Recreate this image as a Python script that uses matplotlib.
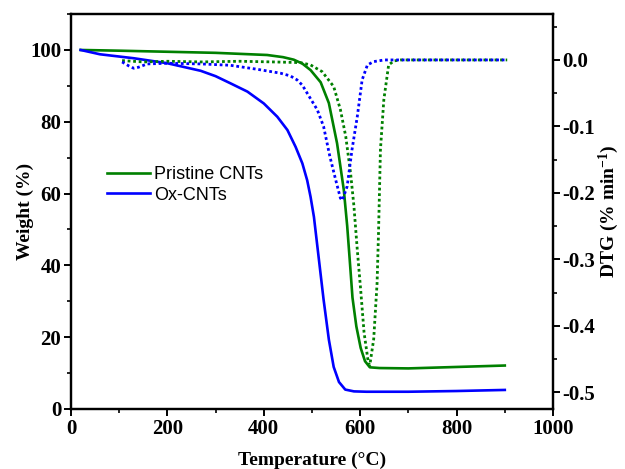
import matplotlib
matplotlib.use("Agg")
import matplotlib.pyplot as plt
from matplotlib.ticker import MultipleLocator

plt.rcParams['font.family'] = ['Liberation Serif', 'DejaVu Serif']
plt.rcParams['font.weight'] = 'bold'
plt.rcParams['axes.unicode_minus'] = False
plt.rcParams['mathtext.fontset'] = 'custom'
plt.rcParams['mathtext.rm'] = 'Liberation Serif:bold'
plt.rcParams['mathtext.bf'] = 'Liberation Serif:bold'
plt.rcParams['mathtext.default'] = 'rm'

# TGA, pristine CNTs (weight %)
t_pristine = [20, 100, 200, 300, 407, 440, 462, 480, 497, 518, 535, 552, 566, 573, 578, 584,
              592, 601, 610, 620, 640, 700, 800, 900]
w_pristine = [100, 99.8, 99.5, 99.2, 98.6, 98.0, 97.3, 96.2, 94.4, 91.0, 85.2, 74.0, 61.0,
              51.0, 42.0, 31.0, 23.0, 17.0, 13.3, 11.6, 11.4, 11.3, 11.7, 12.1]

# TGA, Ox-CNTs (weight %)
t_ox = [20, 60, 130, 200, 269, 300, 331, 366, 400, 428, 449, 466, 480, 490, 497, 504, 514,
        524, 535, 545, 556, 569, 587, 613, 700, 800, 900]
w_ox = [100, 98.8, 97.7, 96.3, 94.2, 92.7, 90.7, 88.4, 85.1, 81.4, 77.7, 73.0, 68.4, 63.7,
        59.1, 53.5, 42.0, 30.5, 19.3, 11.7, 7.5, 5.4, 4.9, 4.8, 4.8, 5.0, 5.3]

# DTG, pristine CNTs (% min-1)
td_pristine = [106, 150, 200, 270, 350, 420, 476, 497, 521, 545, 559, 570, 580, 587, 594,
               601, 608, 617, 620, 628, 635, 638, 642, 649, 659, 670, 684, 800, 905]
d_pristine = [-0.001, -0.003, -0.002, -0.003, -0.002, -0.003, -0.004, -0.0075, -0.0176,
              -0.040, -0.075, -0.115, -0.17, -0.22, -0.286, -0.346, -0.41, -0.456, -0.459,
              -0.42, -0.336, -0.26, -0.135, -0.06, -0.0075, -0.0015, 0.0, 0.0, 0.0]

# DTG, Ox-CNTs (% min-1)
td_ox = [106, 120, 130, 140, 158, 200, 270, 330, 386, 435, 455, 469, 480, 490, 511, 524, 537,
         549, 559, 563, 573, 583, 594, 604, 615, 628, 650, 700, 800, 905]
d_ox = [-0.003, -0.009, -0.0125, -0.011, -0.006, -0.005, -0.006, -0.008, -0.014, -0.02,
        -0.024, -0.03, -0.038, -0.05, -0.075, -0.10, -0.145, -0.18, -0.208, -0.211, -0.19,
        -0.135, -0.085, -0.03, -0.0075, -0.0025, 0.0, 0.0, 0.0, 0.0]

GREEN = '#008000'
BLUE = '#0000ff'

fig = plt.figure(figsize=(6.25, 4.69), dpi=100)
ax = fig.add_axes([0.1136, 0.128, 0.7712, 0.842])
ax2 = ax.twinx()

ax.plot(t_pristine, w_pristine, color=GREEN, lw=1.9, label='Pristine CNTs', zorder=3)
ax.plot(t_ox, w_ox, color=BLUE, lw=1.9, label='Ox-CNTs', zorder=3)
ax2.plot(td_pristine, d_pristine, color=GREEN, lw=2.0, linestyle=(0, (1, 1)))
ax2.plot(td_ox, d_ox, color=BLUE, lw=2.0, linestyle=(0, (1, 1)))

ax.set_xlim(0, 1000)
ax.set_ylim(0, 110)
ax2.set_ylim(-0.525, 0.069)

ax.xaxis.set_major_locator(MultipleLocator(200))
ax.xaxis.set_minor_locator(MultipleLocator(100))
ax.yaxis.set_major_locator(MultipleLocator(20))
ax.yaxis.set_minor_locator(MultipleLocator(10))
ax2.yaxis.set_major_locator(MultipleLocator(0.1))
ax2.yaxis.set_minor_locator(MultipleLocator(0.05))
ax2.yaxis.set_major_formatter(plt.FuncFormatter(lambda v, p: '%.1f' % v if abs(v) > 1e-9 else '0.0'))

for a in (ax, ax2):
    for s in a.spines.values():
        s.set_linewidth(1.6)
    a.tick_params(which='major', length=5, width=1.4, direction='out', labelsize=15, pad=2)
    a.tick_params(which='minor', length=3, width=1.2, direction='out')
ax.tick_params(top=False, which='both')

ax.set_xlabel('Temperature (°C)', fontsize=14, fontweight='bold', labelpad=9)
ax.set_ylabel('Weight (%)', fontsize=14, fontweight='bold')
ax.yaxis.set_label_coords(-0.076, 0.5)
ax2.set_ylabel('DTG (% min$^{-1}$)', fontsize=14, fontweight='bold', labelpad=1)

leg = ax.legend(loc='upper left', bbox_to_anchor=(0.075, 0.615), frameon=False,
                prop={'family': 'Liberation Sans', 'weight': 'normal', 'size': 13},
                handlelength=2.35, handletextpad=0.25, labelspacing=0.2,
                borderpad=0, borderaxespad=0)

fig.savefig('out.png', dpi=100)
